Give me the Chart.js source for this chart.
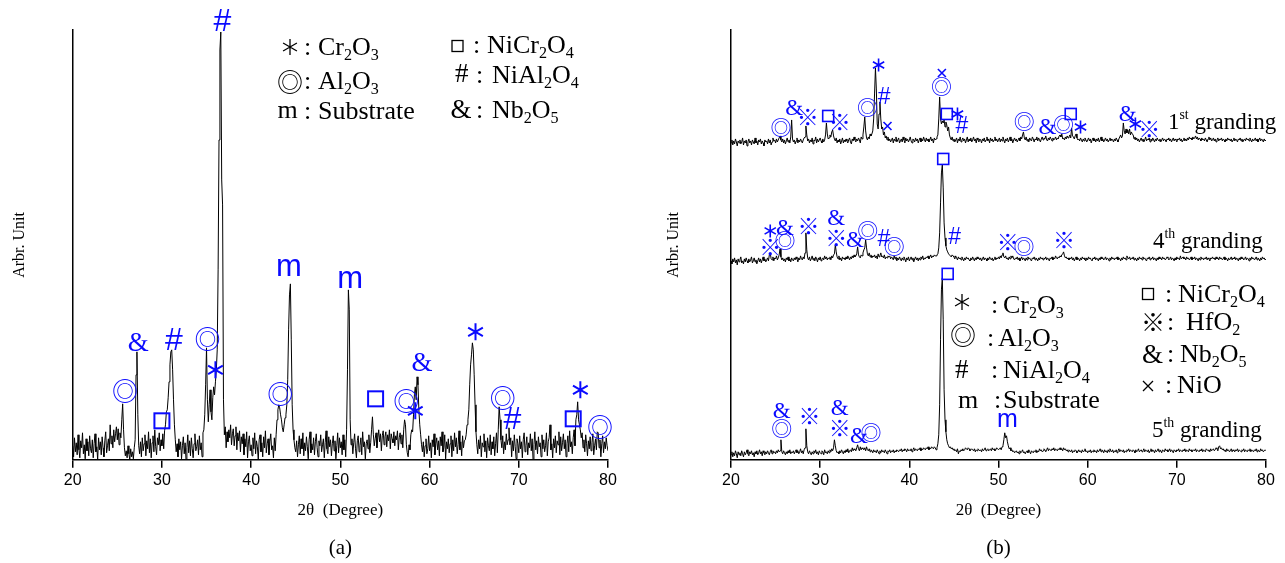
<!DOCTYPE html>
<html>
<head>
<meta charset="utf-8">
<title>XRD patterns</title>
<script src="https://cdn.jsdelivr.net/npm/chart.js@4.4.1/dist/chart.umd.min.js"></script>
<style>
  body { margin: 0; background: #fff; }
  #wrap { position: relative; width: 1285px; height: 563px; }
  canvas { position: absolute; top: 0; }
  #chartA { left: 0; }
  #chartB { left: 640px; }
</style>
</head>
<body>
<div id="wrap">
  <canvas id="chartA" width="640" height="563"></canvas>
  <canvas id="chartB" width="645" height="563"></canvas>
</div>
<script>
// scan grid: 20.0 .. 80.0 deg, 0.1 deg per point (one row = one degree)
const angleStart = 20;
const angleStep = 0.1;
const tickValues = [20, 30, 40, 50, 60, 70, 80];

// (a) single pattern
const countsA = [
  14, 3, 22, 8, 17, 5, 25, 10, 2, 19,
  12, 27, 6, 15, 1, 21, 9, 18, 4, 24,
  11, 7, 20, 2, 16, 26, 8, 13, 0, 22,
  10, 18, 5, 23, 12, 3, 19, 28, 7, 14,
  21, 9, 35, 16, 24, 12, 30, 18, 26, 33,
  20, 31, 15, 27, 22, 40, 56, 30, 12, 4,
  9, 2, 14, 6, 0, 11, 3, 8, 1, 12,
  20, 85, 108, 45, 14, 6, 18, 3, 22, 9,
  16, 25, 4, 19, 11, 28, 7, 21, 2, 17,
  24, 8, 30, 13, 5, 22, 15, 27, 9, 20,
  14, 26, 11, 29, 35, 48, 50, 62, 78, 95,
  108, 110, 90, 60, 35, 20, 8, 16, 3, 21,
  10, 18, 1, 14, 23, 6, 17, 0, 12, 25,
  7, 19, 4, 22, 11, 2, 16, 26, 9, 13,
  20, 5, 24, 10, 17, 3, 27, 30, 45, 75,
  112, 60, 38, 55, 70, 48, 40, 62, 73, 65,
  78, 90, 110, 190, 320, 410, 428, 280, 255, 60,
  25, 33, 12, 28, 18, 30, 22, 35, 15, 26,
  31, 14, 24, 33, 10, 27, 19, 29, 8, 23,
  16, 26, 5, 21, 13, 28, 2, 18, 24, 9,
  15, 4, 22, 11, 27, 6, 19, 13, 0, 20,
  25, 8, 17, 3, 23, 12, 29, 7, 16, 21,
  5, 18, 26, 10, 14, 2, 22, 9, 25, 40,
  50, 55, 52, 45, 40, 32, 28, 35, 42, 45,
  55, 80, 130, 165, 176, 120, 55, 30, 20, 12,
  8, 19, 3, 15, 24, 6, 21, 11, 27, 4,
  17, 9, 23, 13, 1, 20, 28, 7, 16, 10,
  22, 5, 18, 26, 12, 3, 19, 14, 25, 8,
  15, 21, 2, 17, 29, 11, 6, 23, 13, 20,
  4, 16, 24, 9, 19, 1, 14, 27, 7, 22,
  12, 18, 5, 25, 10, 20, 3, 30, 90, 170,
  150, 40, 15, 21, 6, 17, 26, 11, 2, 19,
  24, 8, 14, 22, 5, 28, 13, 18, 1, 16,
  20, 11, 25, 7, 17, 30, 43, 25, 14, 21,
  27, 12, 22, 30, 18, 26, 9, 24, 29, 15,
  23, 28, 13, 25, 19, 30, 11, 26, 21, 17,
  28, 14, 24, 20, 29, 10, 22, 27, 16, 25,
  12, 30, 40, 35, 15, 7, 3, 15, 10, 25,
  30, 28, 45, 65, 73, 60, 83, 75, 50, 35,
  25, 15, 8, 18, 3, 14, 21, 6, 11, 24,
  9, 17, 2, 20, 13, 26, 5, 16, 22, 10,
  19, 4, 23, 14, 28, 8, 12, 25, 1, 18,
  11, 21, 7, 16, 24, 3, 20, 9, 27, 13,
  22, 6, 15, 29, 10, 18, 4, 24, 12, 19,
  20, 25, 35, 40, 50, 75, 95, 105, 117, 110,
  85, 55, 28, 15, 6, 20, 11, 24, 3, 17,
  13, 26, 8, 19, 2, 22, 14, 9, 25, 5,
  18, 11, 23, 4, 16, 27, 7, 30, 53, 40,
  20, 12, 24, 6, 18, 10, 26, 15, 20, 32,
  15, 22, 3, 19, 9, 25, 13, 1, 21, 16,
  7, 24, 11, 18, 2, 20, 27, 8, 14, 23,
  5, 17, 12, 26, 9, 21, 0, 15, 28, 10,
  19, 6, 23, 13, 17, 3, 25, 11, 20, 8,
  14, 27, 4, 18, 22, 35, 10, 16, 2, 21,
  12, 24, 7, 19, 15, 28, 5, 23, 9, 17,
  26, 11, 20, 3, 16, 24, 8, 29, 13, 18,
  6, 22, 30, 14, 40, 45, 58, 40, 35, 30,
  22, 27, 12, 20, 8, 25, 16, 4, 19, 11,
  23, 9, 17, 26, 5, 14, 21, 10, 28, 27,
  12, 20, 3, 16, 24, 7, 18, 11, 22, 14,
  9
];

// (b) three grinding stages, raw counts above each trace's own baseline
const counts1st = [
  6, 9, 4, 8, 5, 10, 7, 3, 8, 6,
  9, 5, 7, 11, 4, 8, 6, 9, 3, 7,
  10, 6, 8, 4, 9, 7, 5, 11, 6, 8,
  4, 9, 7, 10, 5, 8, 6, 3, 9, 7,
  8, 5, 10, 6, 9, 4, 7, 11, 8, 9,
  6, 10, 7, 9, 11, 13, 9, 7, 10, 6,
  9, 5, 8, 11, 7, 9, 6, 12, 29, 10,
  7, 9, 5, 8, 11, 6, 9, 7, 10, 8,
  6, 9, 11, 12, 23, 14, 8, 10, 6, 9,
  7, 11, 5, 9, 8, 12, 6, 10, 7, 9,
  11, 8, 6, 10, 7, 9, 14, 26, 15, 10,
  11, 14, 12, 17, 19, 13, 10, 8, 11, 6,
  9, 7, 10, 5, 8, 11, 6, 9, 7, 10,
  8, 6, 9, 11, 7, 5, 10, 8, 12, 9,
  7, 10, 8, 11, 9, 6, 12, 10, 14, 22,
  32, 18, 11, 9, 12, 10, 15, 13, 15, 18,
  30, 55, 81, 60, 25, 20, 35, 47, 30, 20,
  22, 14, 17, 11, 13, 9, 12, 8, 10, 7,
  9, 11, 6, 10, 8, 12, 7, 9, 11, 6,
  8, 10, 7, 12, 9, 6, 11, 8, 10, 7,
  9, 12, 8, 6, 10, 9, 7, 11, 8, 10,
  6, 9, 11, 7, 10, 8, 12, 9, 7, 11,
  8, 10, 7, 9, 12, 8, 10, 6, 11, 9,
  10, 12, 14, 30, 52, 30, 25, 28, 26, 29,
  22, 27, 24, 18, 22, 14, 11, 9, 12, 8,
  10, 7, 9, 11, 6, 10, 8, 12, 7, 9,
  11, 8, 10, 6, 9, 12, 7, 10, 8, 11,
  7, 9, 12, 8, 10, 6, 11, 9, 7, 10,
  9, 6, 10, 8, 11, 7, 9, 12, 8, 10,
  6, 11, 8, 10, 7, 9, 12, 8, 10, 7,
  9, 11, 7, 10, 8, 12, 9, 6, 10, 8,
  11, 7, 9, 12, 8, 10, 6, 9, 11, 8,
  10, 7, 9, 11, 8, 12, 10, 14, 17, 11,
  9, 12, 8, 10, 7, 11, 9, 8, 12, 10,
  7, 10, 9, 12, 8, 11, 9, 7, 10, 12,
  9, 11, 10, 13, 9, 8, 11, 9, 12, 10,
  8, 11, 9, 10, 12, 9, 11, 10, 13, 14,
  12, 15, 10, 11, 9, 12, 10, 13, 11, 12,
  14, 11, 21, 13, 12, 10, 13, 15, 11, 9,
  10, 8, 11, 9, 7, 10, 8, 11, 9, 7,
  9, 11, 8, 10, 6, 9, 11, 8, 10, 7,
  10, 8, 11, 7, 9, 12, 8, 10, 7, 9,
  11, 8, 10, 7, 9, 11, 8, 10, 9, 7,
  10, 8, 11, 9, 7, 10, 12, 14, 11, 13,
  26, 18, 15, 20, 16, 19, 15, 20, 14, 17,
  15, 14, 10, 12, 9, 11, 8, 10, 7, 9,
  11, 8, 10, 7, 9, 12, 8, 10, 9, 11,
  7, 10, 8, 11, 9, 7, 10, 8, 11, 9,
  8, 10, 7, 9, 11, 8, 10, 9, 7, 10,
  9, 11, 8, 10, 7, 9, 11, 8, 10, 9,
  7, 10, 9, 11, 8, 10, 7, 9, 11, 8,
  10, 8, 11, 9, 12, 10, 11, 9, 12, 10,
  11, 13, 10, 12, 9, 11, 10, 8, 11, 9,
  10, 8, 11, 9, 7, 10, 12, 9, 11, 8,
  9, 11, 8, 10, 7, 9, 11, 8, 10, 9,
  11, 8, 10, 9, 7, 10, 8, 11, 9, 10,
  8, 10, 7, 9, 11, 8, 10, 9, 7, 10,
  9, 11, 8, 10, 7, 9, 10, 8, 11, 9,
  10, 8, 11, 9, 7, 10, 8, 9, 11, 8,
  10, 7, 9, 11, 8, 10, 9, 7, 10, 8,
  9
];

const counts4th = [
  7, 4, 9, 6, 10, 5, 8, 3, 9, 6,
  8, 11, 5, 7, 4, 9, 6, 10, 7, 5,
  9, 6, 8, 11, 5, 7, 10, 6, 8, 4,
  7, 10, 6, 9, 5, 8, 11, 7, 9, 6,
  8, 10, 7, 13, 15, 9, 8, 11, 7, 10,
  9, 12, 8, 10, 13, 19, 11, 8, 10, 7,
  9, 6, 10, 8, 11, 7, 9, 6, 10, 8,
  7, 10, 8, 11, 9, 6, 10, 8, 12, 9,
  8, 11, 9, 15, 35, 18, 10, 8, 11, 7,
  9, 12, 8, 10, 7, 11, 9, 6, 10, 8,
  11, 7, 9, 10, 8, 12, 9, 11, 8, 10,
  9, 11, 8, 12, 10, 13, 14, 23, 16, 11,
  9, 12, 8, 10, 7, 11, 9, 10, 8, 11,
  9, 12, 10, 8, 11, 9, 12, 10, 13, 11,
  12, 14, 21, 13, 11, 10, 13, 12, 15, 18,
  20, 28, 20, 14, 12, 15, 11, 13, 10, 12,
  11, 13, 10, 12, 9, 14, 11, 12, 15, 11,
  12, 10, 13, 9, 11, 10, 12, 11, 12, 9,
  11, 10, 8, 12, 9, 11, 7, 10, 8, 11,
  9, 7, 10, 8, 11, 9, 6, 10, 8, 11,
  7, 9, 11, 8, 10, 6, 9, 11, 8, 10,
  7, 10, 8, 11, 9, 12, 8, 10, 9, 11,
  10, 12, 9, 11, 13, 10, 12, 11, 13, 12,
  12, 13, 14, 20, 35, 65, 95, 103, 80, 45,
  30, 22, 18, 16, 14, 13, 12, 11, 13, 12,
  11, 9, 12, 10, 8, 11, 9, 10, 8, 11,
  9, 7, 10, 8, 11, 9, 10, 8, 7, 10,
  8, 11, 9, 7, 10, 8, 11, 9, 10, 8,
  10, 7, 9, 11, 8, 10, 9, 7, 10, 8,
  11, 9, 8, 10, 7, 9, 11, 8, 10, 9,
  11, 9, 12, 10, 13, 15, 11, 10, 12, 9,
  10, 8, 11, 9, 12, 10, 12, 9, 8, 10,
  9, 11, 8, 10, 7, 9, 11, 8, 10, 9,
  7, 10, 8, 11, 9, 10, 8, 7, 10, 9,
  11, 8, 10, 9, 7, 10, 8, 11, 9, 10,
  8, 10, 9, 11, 8, 10, 9, 7, 10, 9,
  11, 8, 10, 9, 12, 10, 9, 11, 10, 12,
  11, 13, 14, 16, 12, 10, 11, 9, 10, 8,
  10, 9, 11, 8, 10, 7, 9, 11, 8, 10,
  9, 7, 10, 8, 11, 9, 10, 8, 7, 10,
  8, 11, 9, 10, 8, 7, 10, 9, 11, 8,
  10, 9, 7, 10, 8, 11, 9, 10, 8, 9,
  11, 8, 10, 9, 7, 10, 8, 11, 9, 10,
  8, 10, 9, 11, 8, 10, 9, 7, 10, 8,
  11, 9, 10, 8, 12, 10, 9, 11, 8, 10,
  9, 11, 8, 10, 9, 7, 10, 8, 11, 9,
  10, 8, 11, 9, 10, 8, 7, 10, 9, 11,
  8, 10, 9, 11, 8, 10, 9, 7, 10, 8,
  11, 9, 10, 8, 11, 9, 10, 8, 9, 11,
  10, 8, 9, 11, 8, 10, 9, 7, 10, 8,
  11, 9, 10, 8, 12, 9, 10, 11, 9, 10,
  8, 11, 9, 10, 8, 9, 11, 8, 10, 9,
  11, 8, 10, 9, 7, 10, 8, 11, 9, 10,
  8, 10, 9, 11, 8, 10, 9, 7, 10, 9,
  11, 9, 10, 8, 11, 9, 10, 8, 11, 9,
  10, 8, 9, 11, 8, 10, 9, 7, 10, 8,
  9, 11, 8, 10, 9, 11, 8, 10, 9, 7,
  10, 8, 11, 9, 10, 8, 9, 11, 8, 10,
  9, 7, 10, 8, 11, 9, 10, 8, 9, 11,
  8, 10, 9, 7, 10, 8, 11, 9, 10, 8,
  9
];

const counts5th = [
  5, 8, 3, 7, 4, 9, 6, 2, 8, 5,
  7, 4, 9, 6, 3, 8, 5, 7, 10, 6,
  4, 8, 6, 9, 5, 7, 3, 8, 6, 9,
  5, 7, 10, 6, 8, 4, 9, 7, 5, 8,
  6, 9, 7, 5, 8, 10, 6, 9, 7, 8,
  6, 9, 7, 10, 8, 9, 20, 8, 6, 9,
  7, 5, 8, 6, 9, 7, 10, 6, 8, 7,
  9, 6, 8, 10, 7, 9, 6, 8, 11, 7,
  9, 6, 10, 12, 31, 14, 8, 6, 9, 7,
  5, 8, 6, 9, 7, 10, 6, 8, 5, 9,
  7, 6, 9, 8, 5, 10, 7, 8, 6, 9,
  7, 10, 8, 11, 9, 12, 20, 14, 9, 7,
  8, 6, 9, 7, 10, 8, 6, 9, 7, 10,
  8, 11, 7, 9, 10, 8, 12, 9, 11, 10,
  9, 12, 15, 11, 9, 13, 10, 12, 11, 10,
  12, 9, 13, 10, 9, 11, 8, 10, 9, 7,
  10, 8, 9, 7, 10, 8, 6, 9, 7, 10,
  8, 9, 7, 10, 8, 6, 9, 8, 10, 7,
  9, 8, 10, 7, 9, 8, 10, 9, 8, 10,
  9, 11, 8, 10, 9, 11, 10, 8, 11, 9,
  10, 9, 11, 8, 10, 12, 9, 11, 10, 9,
  11, 10, 12, 9, 11, 10, 12, 11, 10, 12,
  11, 13, 10, 12, 11, 13, 12, 11, 13, 12,
  10, 12, 16, 25, 55, 120, 170, 182, 140, 70,
  40, 28, 20, 16, 14, 12, 13, 11, 12, 10,
  11, 9, 10, 8, 11, 6, 9, 8, 10, 9,
  11, 9, 10, 12, 11, 10, 12, 11, 9, 10,
  11, 10, 9, 11, 8, 10, 9, 11, 10, 9,
  10, 8, 11, 9, 10, 12, 9, 10, 11, 9,
  10, 11, 9, 12, 10, 11, 9, 10, 12, 11,
  10, 11, 12, 10, 13, 14, 20, 27, 22, 24,
  18, 14, 11, 12, 9, 10, 8, 9, 7, 8,
  9, 7, 8, 6, 9, 7, 8, 10, 7, 8,
  6, 8, 9, 7, 10, 8, 6, 9, 8, 7,
  9, 8, 10, 7, 9, 8, 11, 9, 10, 8,
  9, 11, 10, 8, 10, 12, 9, 11, 10, 9,
  11, 10, 12, 9, 11, 10, 9, 11, 10, 12,
  10, 11, 9, 12, 10, 11, 9, 10, 8, 10,
  9, 8, 10, 7, 9, 8, 10, 9, 7, 8,
  10, 8, 9, 7, 10, 8, 9, 11, 8, 9,
  7, 9, 8, 10, 7, 9, 8, 10, 8, 9,
  7, 10, 8, 9, 11, 8, 10, 9, 7, 10,
  8, 9, 7, 10, 8, 11, 9, 8, 10, 7,
  9, 8, 10, 7, 9, 11, 8, 10, 9, 8,
  10, 7, 9, 8, 10, 9, 11, 8, 10, 9,
  8, 10, 9, 7, 10, 8, 9, 11, 8, 9,
  10, 8, 9, 11, 8, 10, 9, 8, 10, 7,
  9, 11, 8, 10, 9, 7, 10, 8, 9, 11,
  8, 10, 9, 7, 10, 9, 8, 11, 9, 10,
  8, 9, 11, 8, 10, 9, 7, 10, 9, 8,
  10, 9, 11, 8, 10, 9, 8, 10, 9, 11,
  8, 10, 9, 8, 11, 9, 10, 8, 9, 10,
  9, 11, 8, 10, 9, 8, 10, 9, 11, 8,
  10, 9, 8, 11, 10, 9, 10, 8, 11, 9,
  10, 11, 9, 10, 12, 11, 9, 13, 14, 11,
  12, 10, 11, 9, 10, 8, 11, 9, 10, 8,
  9, 11, 8, 10, 9, 8, 10, 9, 11, 8,
  10, 9, 8, 10, 9, 11, 8, 10, 9, 8,
  10, 9, 11, 8, 10, 9, 8, 10, 9, 11,
  8, 10, 9, 8, 11, 9, 10, 8, 9, 10,
  9
];

const seriesB = ['1st', '4th', '5th'];
const stackOffsetsB = [311, 192, 0];

// peak markers: [symbol, 2theta, intensity]
const marksA = [
  ['#', 36.8, 440], ['◎', 25.85, 69], ['&', 27.4, 118], ['□', 30.0, 39],
  ['#', 31.35, 121], ['◎', 35.1, 121], ['*', 36.0, 90], ['◎', 43.25, 66],
  ['m', 44.25, 192], ['m', 51.1, 180], ['□', 53.95, 61], ['◎', 57.4, 59],
  ['&', 59.2, 98], ['*', 58.4, 49], ['*', 65.15, 128], ['◎', 68.2, 62],
  ['#', 69.3, 42], ['*', 76.9, 70], ['□', 76.1, 41], ['◎', 79.1, 33]
];

const marksB = [
  ['◎', 25.6, 332], ['&', 27.1, 352], ['※', 28.6, 343], ['□', 30.9, 344],
  ['※', 32.2, 338], ['◎', 35.3, 352], ['*', 36.55, 395], ['#', 37.2, 364],
  ['×', 37.55, 334], ['×', 43.65, 387], ['◎', 43.6, 373], ['□', 44.2, 346],
  ['*', 45.4, 346], ['#', 45.9, 335], ['◎', 52.9, 338], ['&', 55.5, 333],
  ['◎', 57.3, 335], ['□', 58.1, 346], ['*', 59.2, 333], ['&', 64.5, 346],
  ['*', 65.35, 336], ['※', 66.9, 331],
  ['*', 24.4, 229], ['※', 24.4, 213], ['&', 26.05, 232], ['◎', 26.05, 219],
  ['※', 28.7, 234], ['&', 31.8, 242], ['※', 31.8, 222], ['&', 33.9, 220],
  ['◎', 35.35, 229], ['#', 37.15, 222], ['◎', 38.3, 213], ['□', 43.8, 301],
  ['#', 45.1, 224], ['※', 51.05, 218], ['◎', 52.85, 213], ['※', 57.35, 220],
  ['□', 44.3, 186], ['&', 25.7, 49], ['◎', 25.7, 31], ['※', 28.8, 44],
  ['&', 32.2, 52], ['※', 32.2, 32], ['&', 34.35, 24], ['◎', 35.7, 27],
  ['m', 51.0, 40]
];

const phasesA = [['*', 'Cr_2O_3'], ['◎', 'Al_2O_3'], ['m', 'Substrate'],
  ['□', 'NiCr_2O_4'], ['#', 'NiAl_2O_4'], ['&', 'Nb_2O_5']];
const phasesB = [['*', 'Cr_2O_3'], ['◎', 'Al_2O_3'], ['#', 'NiAl_2O_4'], ['m', 'Substrate'],
  ['□', 'NiCr_2O_4'], ['※', 'HfO_2'], ['&', 'Nb_2O_5'], ['×', 'NiO']];
const stageLabels = ['1^st granding', '4^th granding', '5^th granding'];

const BLUE = '#0a0aff';
const SERIF = '"Liberation Serif"';
const SANS = '"Liberation Sans"';
const CJK = '"Noto Sans CJK JP"';

function toPoints(counts, offset) {
  return counts.map((v, i) => ({ x: Math.round((angleStart + i * angleStep) * 10) / 10, y: v + offset }));
}

// glyph centred on its ink box
function glyph(ctx, text, font, cx, cy) {
  ctx.font = font;
  ctx.textAlign = 'left';
  ctx.textBaseline = 'alphabetic';
  const m = ctx.measureText(text);
  const x = cx - (m.actualBoundingBoxRight - m.actualBoundingBoxLeft) / 2;
  const y = cy + (m.actualBoundingBoxAscent - m.actualBoundingBoxDescent) / 2;
  ctx.fillText(text, x, y);
}

function drawMark(ctx, sym, cx, cy, size, lw, color, family) {
  ctx.fillStyle = color;
  ctx.strokeStyle = color;
  ctx.lineWidth = lw;
  if (sym === '*') {
    ctx.beginPath();
    for (const a of [90, 30, -30]) {
      const dx = size * Math.cos(a * Math.PI / 180);
      const dy = size * Math.sin(a * Math.PI / 180);
      ctx.moveTo(cx - dx, cy - dy);
      ctx.lineTo(cx + dx, cy + dy);
    }
    ctx.stroke();
  } else if (sym === '□') {
    ctx.strokeRect(cx - size / 2, cy - size / 2, size, size);
  } else if (sym === '×') {
    ctx.beginPath();
    ctx.moveTo(cx - size, cy - size); ctx.lineTo(cx + size, cy + size);
    ctx.moveTo(cx + size, cy - size); ctx.lineTo(cx - size, cy + size);
    ctx.stroke();
  } else {
    let fam = family;
    if (sym === '◎' || sym === '※') fam = CJK;
    else if (!fam) fam = sym === '&' ? SERIF : SANS;
    glyph(ctx, sym, `${size}px ${fam}`, cx, cy);
  }
}

// "_x" = subscript char, "^xx" = superscript word
function richText(ctx, str, x, y, size) {
  const parts = str.split(/(_\w|\^\w+)/).filter(Boolean);
  ctx.textAlign = 'left';
  ctx.textBaseline = 'alphabetic';
  for (const p of parts) {
    let txt = p, s = size, dy = 0;
    if (p[0] === '_') { txt = p.slice(1); s = size * 0.62; dy = size * 0.2; }
    else if (p[0] === '^') { txt = p.slice(1); s = size * 0.6; dy = -size * 0.42; }
    ctx.font = `${s}px ${SERIF}`;
    ctx.fillText(txt, x, y + dy);
    x += ctx.measureText(txt).width;
  }
}

const markSizesA = { '#': 32, '&': 27, '◎': 26, 'm': 31, '*': 8.5, '□': 15, lw: 2 };
const markSizesB = { '#': 23, '&': 23, '◎': 21, '※': 22, 'm': 25, '*': 6.5, '□': 11, '×': 4, lw: 1.6 };
const legendSizes = { '#': 27, '&': 27, '◎': 26, '※': 24, 'm': 26, '*': 8, '□': 11, '×': 5, lw: 1.3 };

function drawPhaseLegend(ctx, phases, slots) {
  phases.forEach(([sym, name], i) => {
    const [sx, sy, colonX, textX, base] = slots[i];
    drawMark(ctx, sym, sx, sy, legendSizes[sym], legendSizes.lw, '#000', SERIF);
    ctx.fillStyle = '#000';
    richText(ctx, ':', colonX, base, 26);
    richText(ctx, name, textX, base, 26);
  });
}

function markPlugin(marks, sizes, extra) {
  return {
    id: 'peakMarks',
    afterDraw(chart) {
      const { ctx } = chart;
      const { x, y } = chart.scales;
      ctx.save();
      for (const [sym, angle, value] of marks) {
        drawMark(ctx, sym, x.getPixelForValue(angle), y.getPixelForValue(value), sizes[sym], sizes.lw, BLUE);
      }
      extra(ctx);
      ctx.restore();
    }
  };
}

function chartOptions(panelLabel, padRight, yTitleTop, yTitleBottom) {
  return {
    responsive: false,
    animation: false,
    events: [],
    layout: { padding: { top: 30, left: 0, right: padRight, bottom: 2.4 } },
    plugins: {
      legend: { display: false },
      tooltip: { enabled: false },
      title: {
        display: true, text: panelLabel, position: 'bottom', fullSize: false, color: '#000',
        font: { family: 'Liberation Serif', size: 21, weight: 'normal' },
        padding: { top: 15, bottom: 0 }
      }
    },
    scales: {
      x: {
        type: 'linear', min: 20, max: 80,
        afterBuildTicks: (s) => { s.ticks = tickValues.map((v) => ({ value: v })); },
        ticks: { color: '#000', font: { family: 'Liberation Sans', size: 16 }, padding: 3, maxRotation: 0 },
        grid: { display: true, drawOnChartArea: false, drawTicks: true, tickLength: 8, color: '#000', lineWidth: 1.5 },
        border: { display: true, color: '#000', width: 1.5 },
        title: {
          display: true, text: '2θ  (Degree)', color: '#000',
          font: { family: 'Liberation Serif', size: 17 }, padding: { top: 7, bottom: 0 }
        }
      },
      y: {
        type: 'linear', min: 0, max: 430,
        ticks: { display: false },
        grid: { display: false },
        border: { display: true, color: '#000', width: 1.5 },
        title: {
          display: true, text: 'Arbr. Unit', color: '#000',
          font: { family: 'Liberation Serif', size: 16 }, padding: { top: yTitleTop, bottom: yTitleBottom }
        }
      }
    }
  };
}

function lineDataset(label, points) {
  return {
    label, data: points, borderColor: '#000', borderWidth: 1,
    pointRadius: 0, tension: 0, fill: false
  };
}

new Chart(document.getElementById('chartA'), {
  type: 'line',
  data: { datasets: [lineDataset('(a)', toPoints(countsA, 0))] },
  options: chartOptions('(a)', 32, 10.4, 35.1),
  plugins: [markPlugin(marksA, markSizesA, (ctx) => {
    drawPhaseLegend(ctx, phasesA, [
      [290, 47, 304, 318, 55], [290, 82, 304, 318, 89], [287.5, 112, 304, 318, 119],
      [457.5, 46, 473, 487, 53], [462, 73, 476, 492, 83], [461.5, 109, 476, 492, 118]
    ]);
  })]
});

const countsB = [counts1st, counts4th, counts5th];
new Chart(document.getElementById('chartB'), {
  type: 'line',
  data: { datasets: seriesB.map((name, i) => lineDataset(name, toPoints(countsB[i], stackOffsetsB[i]))) },
  options: chartOptions('(b)', 19, 24.4, 39.4),
  plugins: [markPlugin(marksB, markSizesB, (ctx) => {
    drawPhaseLegend(ctx, phasesB, [
      [322, 302, 351, 363, 313], [323, 335, 347, 358, 346], [322, 369, 351, 363, 378],
      [328, 402, 354, 363, 408], [508, 294, 525, 538, 302], [513, 322, 527, 546, 330],
      [513, 354, 527, 540, 362], [508, 386, 525, 537, 393]
    ]);
    ctx.fillStyle = '#000';
    const stagePos = [[528, 129], [513, 248], [512, 437]];
    stageLabels.forEach((t, i) => richText(ctx, t, stagePos[i][0], stagePos[i][1], 23));
  })]
});
</script>
</body>
</html>
